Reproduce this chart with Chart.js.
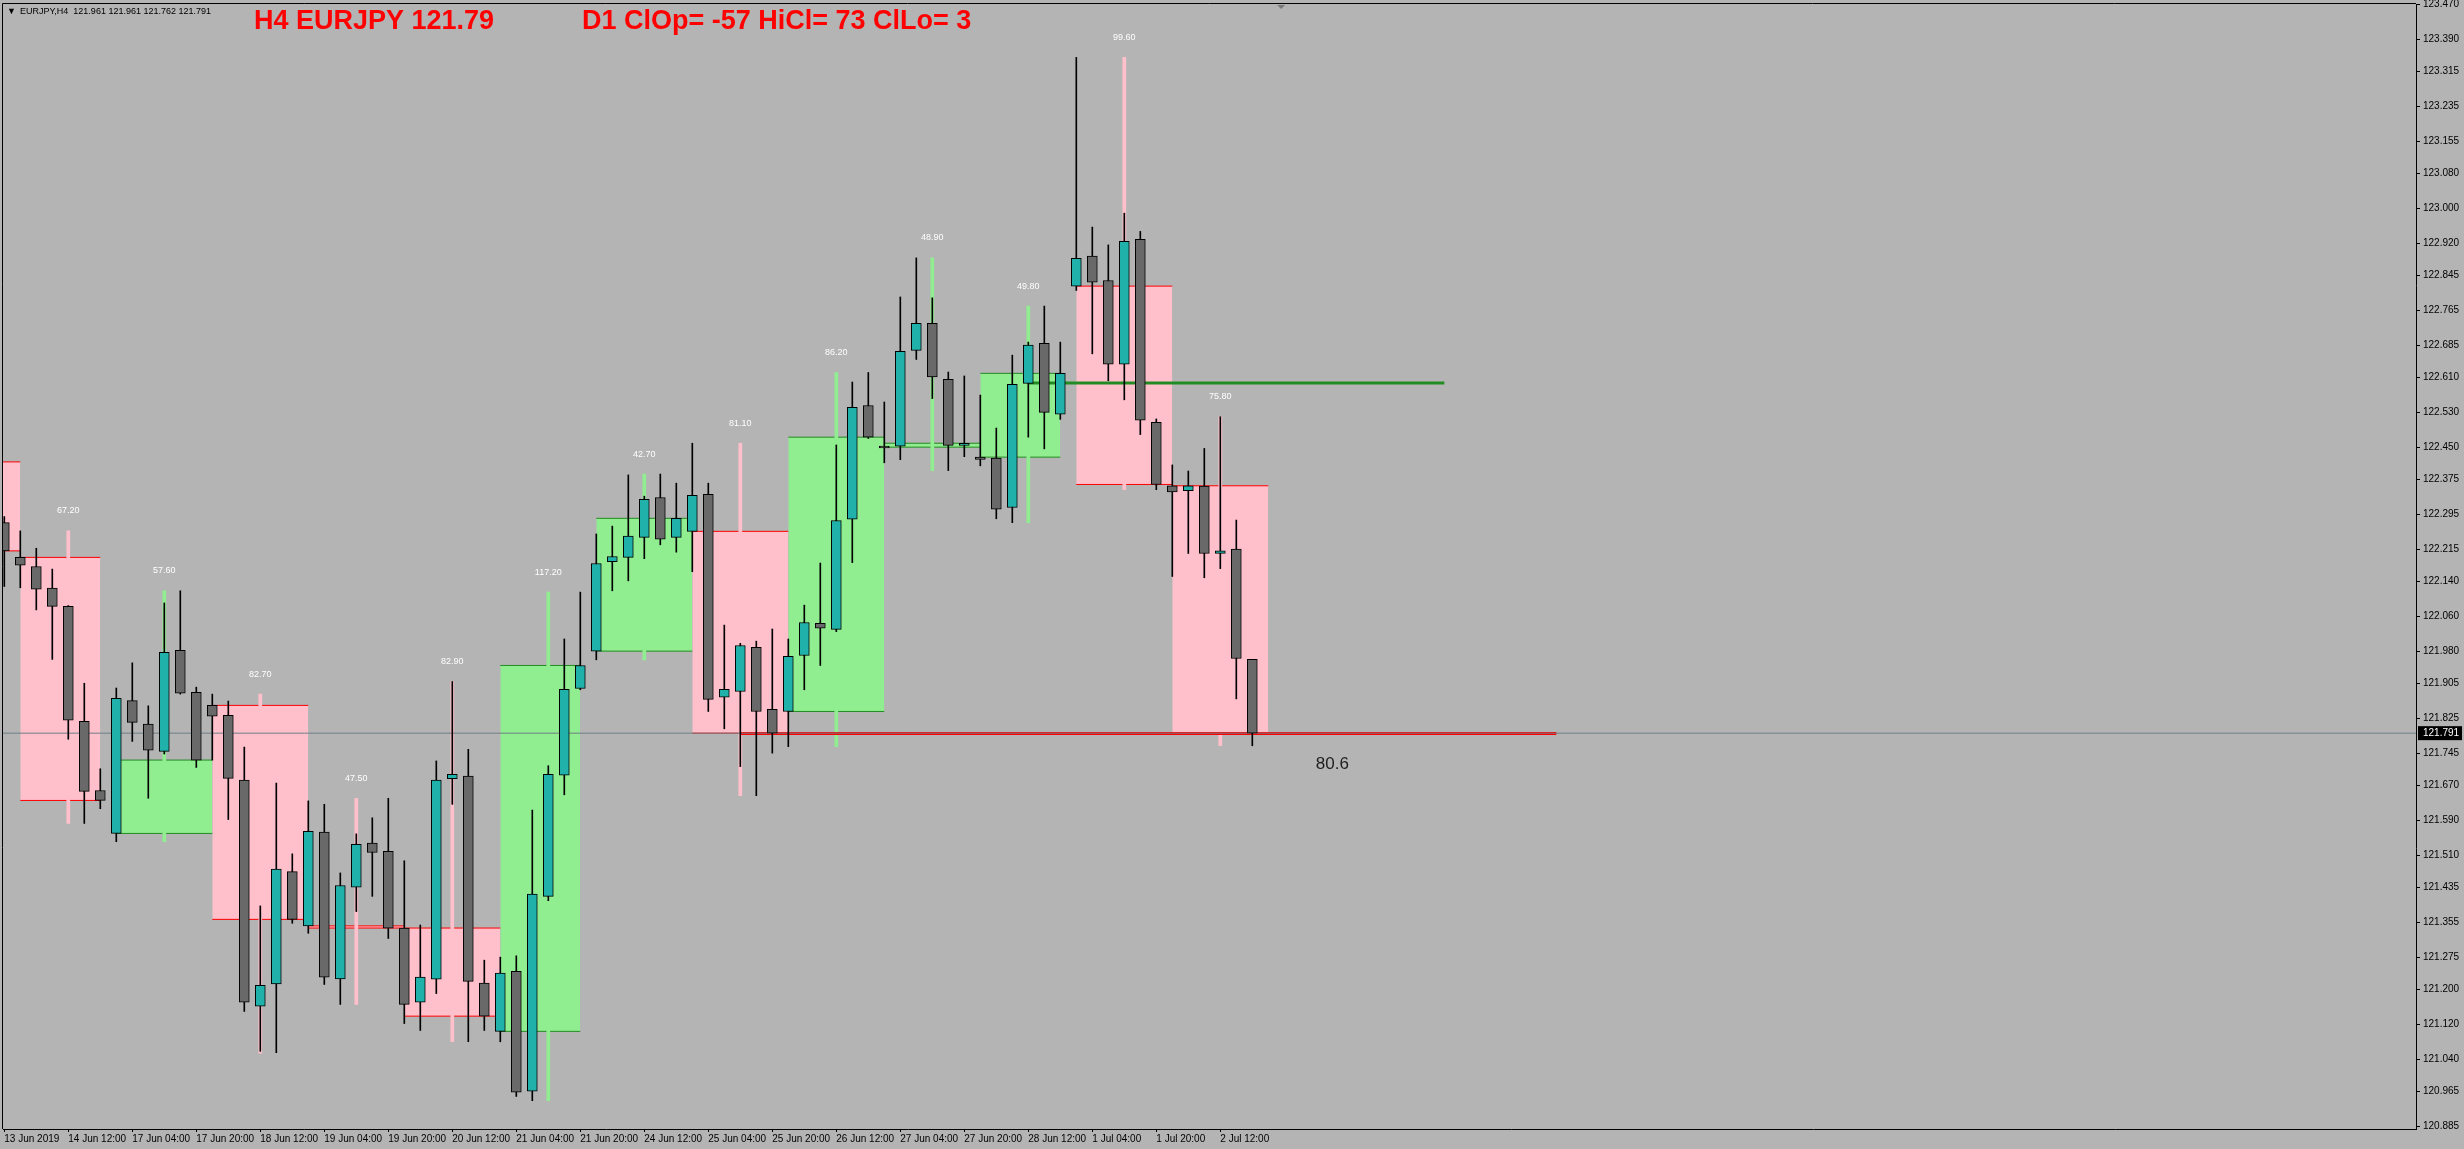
<!DOCTYPE html>
<html lang="en">

<head>
    <meta charset="UTF-8">
    <title>EURJPY,H4</title>
    <script src="https://cdn.jsdelivr.net/npm/chart.js@4.4.0/dist/chart.umd.min.js"></script>
    <style>
        html,
        body {
            margin: 0;
            padding: 0;
            background: #b4b4b4;
        }

        #chart {
            display: block;
        }
    </style>
</head>

<body>
    <canvas id="chart" width="2464" height="1149"></canvas>
    <script>
        // H4 bars, bar 0 = 13 Jun 2019 20:00
        const barOpen = [
            122.276, 122.196, 122.175, 122.125, 122.083, 121.818, 121.659, 121.560, 121.866, 121.812,
            121.749, 121.982, 121.885, 121.855, 121.832, 121.683, 121.162, 121.213, 121.472, 121.347,
            121.563, 121.225, 121.436, 121.538, 121.519, 121.342, 121.171, 121.224, 121.686, 121.692,
            121.215, 121.104, 121.242, 120.966, 121.415, 121.694, 121.894, 121.980, 122.186, 122.196,
            122.242, 122.334, 122.242, 122.256, 122.341, 121.874, 121.887, 121.989, 121.846, 121.841,
            121.970, 122.044, 122.030, 122.284, 122.546, 122.450, 122.452, 122.673, 122.735, 122.606,
            122.454, 122.427, 122.425, 122.311, 122.597, 122.689, 122.526, 122.821, 122.890, 122.834,
            122.641, 122.929, 122.507, 122.361, 122.350, 122.360, 122.205, 122.215, 121.961
        ];
        const barHigh = [
            122.290, 122.257, 122.217, 122.169, 122.085, 121.906, 121.709, 121.895, 121.953, 121.854,
            122.091, 122.119, 121.897, 121.881, 121.865, 121.759, 121.393, 121.676, 121.513, 121.635,
            121.627, 121.469, 121.559, 121.596, 121.641, 121.497, 121.349, 121.727, 121.910, 121.754,
            121.268, 121.275, 121.278, 121.614, 121.716, 122.008, 122.116, 122.250, 122.268, 122.386,
            122.337, 122.388, 122.367, 122.459, 122.367, 122.040, 121.998, 122.003, 122.031, 122.008,
            122.086, 122.183, 122.455, 122.600, 122.622, 122.554, 122.796, 122.886, 122.794, 122.623,
            122.614, 122.570, 122.494, 122.662, 122.692, 122.775, 122.692, 123.348, 122.957, 122.916,
            122.989, 122.947, 122.515, 122.409, 122.395, 122.447, 122.520, 122.282, 121.961
        ];
        const barLow = [
            122.129, 122.126, 122.075, 121.961, 121.777, 121.583, 121.617, 121.541, 121.772, 121.641,
            121.743, 121.881, 121.712, 121.729, 121.592, 121.150, 121.058, 121.055, 121.353, 121.330,
            121.212, 121.166, 121.380, 121.415, 121.318, 121.122, 121.106, 121.191, 121.627, 121.080,
            121.106, 121.080, 120.954, 120.944, 121.405, 121.649, 121.891, 121.960, 122.119, 122.142,
            122.193, 122.225, 122.208, 122.163, 121.841, 121.801, 121.714, 121.647, 121.745, 121.760,
            121.891, 121.947, 122.025, 122.184, 122.470, 122.414, 122.421, 122.652, 122.562, 122.396,
            122.428, 122.407, 122.285, 122.276, 122.473, 122.446, 122.514, 122.811, 122.665, 122.603,
            122.559, 122.479, 122.352, 122.152, 122.205, 122.149, 122.170, 121.870, 121.762
        ];
        const barClose = [
            122.211, 122.178, 122.123, 122.083, 121.821, 121.657, 121.636, 121.871, 121.816, 121.752,
            121.977, 121.883, 121.729, 121.830, 121.687, 121.171, 121.210, 121.478, 121.362, 121.565,
            121.229, 121.440, 121.535, 121.516, 121.342, 121.166, 121.229, 121.683, 121.696, 121.219,
            121.139, 121.238, 120.964, 121.420, 121.696, 121.892, 121.947, 122.182, 122.198, 122.245,
            122.330, 122.238, 122.286, 122.339, 121.869, 121.892, 121.993, 121.841, 121.791, 121.968,
            122.046, 122.033, 122.281, 122.542, 122.473, 122.448, 122.671, 122.735, 122.612, 122.454,
            122.459, 122.422, 122.307, 122.595, 122.685, 122.530, 122.620, 122.885, 122.830, 122.641,
            122.924, 122.512, 122.364, 122.347, 122.361, 122.205, 122.211, 121.963, 121.791
        ];

        // D1 boxes (13 Jun .. 2 Jul), in bar numbers
        const dayStart = [-5, 1, 7, 13, 19, 25, 31, 37, 43, 49, 55, 61, 67, 73];
        const dayEnd = [1, 6, 13, 19, 25, 31, 36, 43, 49, 55, 61, 66, 73, 79];
        const dayOpen = [122.416, 122.196, 121.560, 121.855, 121.347, 121.342, 121.104, 121.980, 122.256, 121.841, 122.450, 122.427, 122.821, 122.361];
        const dayClose = [122.211, 121.636, 121.729, 121.362, 121.342, 121.139, 121.947, 122.286, 121.791, 122.473, 122.459, 122.620, 122.364, 121.791];
        const dayHigh = [null, 122.257, 122.119, 121.881, 121.641, 121.910, 122.116, 122.388, 122.459, 122.622, 122.886, 122.775, 123.348, 122.520];
        const dayLow = [null, 121.583, 121.541, 121.054, 121.166, 121.080, 120.944, 121.960, 121.647, 121.760, 122.396, 122.276, 122.352, 121.762];
        const dayRangeText = [null, '67.20', '57.60', '82.70', '47.50', '82.90', '117.20', '42.70', '81.10', '86.20', '48.90', '49.80', '99.60', '75.80'];

        // horizontal levels
        const levelPrice = [121.790, 122.598];
        const levelFrom = [46, 64];
        const levelTo = [97, 90];
        const levelColor = ['#ff0000', '#228b22'];

        const bidPrice = 121.791;
        const noteText = '80.6';
        const noteBar = 83;
        const notePrice = 121.720;
        const shiftBar = 79.8;

        const xTickBars = [0, 4, 8, 12, 16, 20, 24, 28, 32, 36, 40, 44, 48, 52, 56, 60, 64, 68, 72, 76];
        const xTickLabels = ['13 Jun 2019', '14 Jun 12:00', '17 Jun 04:00', '17 Jun 20:00', '18 Jun 12:00', '19 Jun 04:00',
            '19 Jun 20:00', '20 Jun 12:00', '21 Jun 04:00', '21 Jun 20:00', '24 Jun 12:00', '25 Jun 04:00',
            '25 Jun 20:00', '26 Jun 12:00', '27 Jun 04:00', '27 Jun 20:00', '28 Jun 12:00', '1 Jul 04:00',
            '1 Jul 20:00', '2 Jul 12:00'];
        const yTickValues = [123.470, 123.390, 123.315, 123.235, 123.155, 123.080, 123.000, 122.920, 122.845,
            122.765, 122.685, 122.610, 122.530, 122.450, 122.375, 122.295, 122.215, 122.140, 122.060, 121.980,
            121.905, 121.825, 121.745, 121.670, 121.590, 121.510, 121.435, 121.355, 121.275, 121.200, 121.120,
            121.040, 120.965, 120.885];

        const xMin = -0.081, xMax = 150.73;
        const yMin = 120.879, yMax = 123.471;

        const bg = '#b4b4b4';
        const font = "'Liberation Sans', Arial, 'DejaVu Sans', sans-serif";

        const idx = barOpen.map((v, i) => i);
        const datasets = [];

        // candle bodies
        datasets.push({
            type: 'bar', order: 0, grouped: false,
            data: idx.map(i => ({ x: i, y: [barOpen[i], barClose[i]] })),
            backgroundColor: idx.map(i => barClose[i] >= barOpen[i] ? '#20b2aa' : '#696969'),
            borderColor: '#000', borderWidth: 1, borderSkipped: false,
            barThickness: 10, minBarLength: 2
        });
        // candle wicks
        datasets.push({
            type: 'bar', order: 1, grouped: false,
            data: idx.map(i => ({ x: i, y: [barLow[i], barHigh[i]] })),
            backgroundColor: '#000', borderWidth: 0, barThickness: 1
        });

        // bid line
        datasets.push({
            type: 'line', order: 2,
            data: [{ x: xMin, y: bidPrice }, { x: xMax, y: bidPrice }],
            borderColor: '#6f7f86', borderWidth: 1, pointRadius: 0, fill: false
        });

        levelPrice.forEach((p, k) => {
            datasets.push({
                type: 'line', order: 3,
                data: [{ x: levelFrom[k], y: p }, { x: levelTo[k], y: p }],
                borderColor: levelColor[k], borderWidth: 3, pointRadius: 0, fill: false
            });
        });

        // day wicks
        const dayIdx = dayStart.map((s, d) => d).filter(d => dayHigh[d] !== null);
        datasets.push({
            type: 'bar', order: 4, grouped: false,
            data: dayIdx.map(d => ({ x: dayStart[d] + 3, y: [dayLow[d], dayHigh[d]] })),
            backgroundColor: dayIdx.map(d => dayClose[d] >= dayOpen[d] ? '#90ee90' : '#ffc0cb'),
            borderWidth: 0, barThickness: 3
        });

        // day boxes: open line + close line filled between
        dayStart.forEach((s, d) => {
            const bull = dayClose[d] >= dayOpen[d];
            const edge = bull ? '#228b22' : '#ff0000';
            datasets.push({
                type: 'line', order: 5,
                data: [{ x: s, y: dayOpen[d] }, { x: dayEnd[d], y: dayOpen[d] }],
                borderColor: edge, borderWidth: 1, pointRadius: 0, fill: false
            });
            datasets.push({
                type: 'line', order: 5,
                data: [{ x: s, y: dayClose[d] }, { x: dayEnd[d], y: dayClose[d] }],
                borderColor: edge, borderWidth: 1, pointRadius: 0,
                fill: '-1', backgroundColor: bull ? '#90ee90' : '#ffc0cb'
            });
        });

        const last = barOpen.length - 1;
        const lastDay = dayOpen.length - 1;

        const overlay = {
            id: 'overlay',
            beforeDraw(chart) {
                const c = chart.ctx;
                c.save();
                c.fillStyle = bg;
                c.fillRect(0, 0, chart.width, chart.height);
                c.restore();
            },
            afterDatasetsDraw(chart) {
                const c = chart.ctx;
                const xs = chart.scales.x, ys = chart.scales.y;
                c.save();
                c.fillStyle = '#ffffff';
                c.font = '9px ' + font;
                c.textAlign = 'center';
                c.textBaseline = 'middle';
                dayIdx.forEach(d => {
                    c.fillText(dayRangeText[d], xs.getPixelForValue(dayStart[d] + 3), ys.getPixelForValue(dayHigh[d]) - 20);
                });
                c.fillStyle = '#1e1e1e';
                c.font = '17px ' + font;
                c.fillText(noteText, xs.getPixelForValue(noteBar), ys.getPixelForValue(notePrice));
                c.restore();
            },
            afterDraw(chart) {
                const c = chart.ctx;
                const a = chart.chartArea;
                const xs = chart.scales.x, ys = chart.scales.y;
                c.save();
                c.strokeStyle = '#000';
                c.lineWidth = 1;
                c.beginPath();
                c.moveTo(a.left - 0.5, a.bottom);
                c.lineTo(a.left - 0.5, a.top - 0.5);
                c.lineTo(a.right, a.top - 0.5);
                c.stroke();

                // chart shift marker
                const sx = xs.getPixelForValue(shiftBar);
                c.fillStyle = '#7a7a7a';
                c.beginPath();
                c.moveTo(sx - 4, a.top + 1);
                c.lineTo(sx + 4, a.top + 1);
                c.lineTo(sx, a.top + 5);
                c.closePath();
                c.fill();

                // header line
                c.fillStyle = '#000';
                c.font = '9px ' + font;
                c.textBaseline = 'middle';
                c.textAlign = 'left';
                c.fillText('\u25BC', 7, 12);
                c.fillText('EURJPY,H4  ' + [barOpen[last], barHigh[last], barLow[last], barClose[last]].map(v => v.toFixed(3)).join(' '), 20, 12);

                const pips = v => Math.round(v * 100);
                c.fillStyle = '#ff0000';
                c.font = 'bold 27px ' + font;
                c.fillText('H4 EURJPY ' + barClose[last].toFixed(2), 254, 22);
                c.fillText('D1 ClOp= ' + pips(dayClose[lastDay] - dayOpen[lastDay]) +
                    ' HiCl= ' + pips(dayHigh[lastDay] - dayClose[lastDay]) +
                    ' ClLo= ' + pips(dayClose[lastDay] - dayLow[lastDay]), 582, 22);

                // bid label on the price axis
                const by = ys.getPixelForValue(bidPrice);
                c.fillStyle = '#000';
                c.fillRect(a.right + 2, by - 7, chart.width - a.right - 4, 14);
                c.fillStyle = '#fff';
                c.font = '10px ' + font;
                c.fillText(bidPrice.toFixed(3), a.right + 7, by);
                c.restore();
            }
        };

        const chart = new Chart(document.getElementById('chart'), {
            type: 'bar',
            data: { datasets: datasets },
            options: {
                responsive: false,
                animation: false,
                devicePixelRatio: 1,
                events: [],
                layout: { padding: { left: 3, top: 4, right: 0, bottom: 0 } },
                plugins: {
                    legend: { display: false },
                    tooltip: { enabled: false }
                },
                scales: {
                    x: {
                        type: 'linear',
                        position: 'bottom',
                        min: xMin,
                        max: xMax,
                        offset: false,
                        grid: { offset: false, drawOnChartArea: false, drawTicks: true, tickLength: 3, color: '#000' },
                        border: { display: true, color: '#000', width: 1 },
                        ticks: {
                            autoSkip: false, maxRotation: 0, minRotation: 0, align: 'start', padding: 1,
                            color: '#000', font: { family: font, size: 10 },
                            callback: (v, i) => xTickLabels[i]
                        },
                        afterBuildTicks: axis => { axis.ticks = xTickBars.map(v => ({ value: v })); },
                        afterFit: axis => { axis.height = 20; axis.paddingLeft = 0; axis.paddingRight = 0; }
                    },
                    y: {
                        type: 'linear',
                        position: 'right',
                        min: yMin,
                        max: yMax,
                        beginAtZero: false,
                        grid: { drawOnChartArea: false, drawTicks: true, tickLength: 4, color: '#000' },
                        border: { display: true, color: '#000', width: 1 },
                        ticks: {
                            autoSkip: false, padding: 3, color: '#000', font: { family: font, size: 10 },
                            callback: v => Number(v).toFixed(3)
                        },
                        afterBuildTicks: axis => { axis.ticks = yTickValues.map(v => ({ value: v })); },
                        afterFit: axis => { axis.width = 48; axis.paddingTop = 0; axis.paddingBottom = 0; }
                    }
                }
            },
            plugins: [overlay]
        });
    </script>
</body>

</html>
